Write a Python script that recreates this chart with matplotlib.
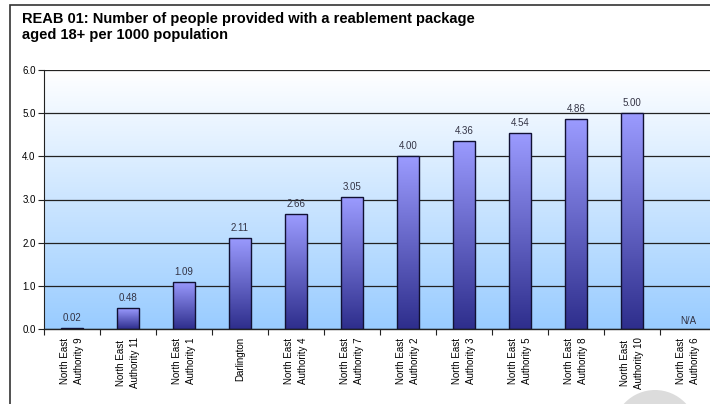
import numpy as np
import matplotlib
matplotlib.use("Agg")
import matplotlib.pyplot as plt
from matplotlib.patches import Rectangle, Ellipse
from matplotlib.colors import LinearSegmentedColormap

plt.rcParams['font.family'] = ['Liberation Sans', 'DejaVu Sans']

title = "REAB 01: Number of people provided with a reablement package\naged 18+ per 1000 population"
categories = ["North East\nAuthority 9", "North East\nAuthority 11", "North East\nAuthority 1",
              "Darlington", "North East\nAuthority 4", "North East\nAuthority 7",
              "North East\nAuthority 2", "North East\nAuthority 3", "North East\nAuthority 5",
              "North East\nAuthority 8", "North East\nAuthority 10", "North East\nAuthority 6"]
values = [0.02, 0.48, 1.09, 2.11, 2.66, 3.05, 4.00, 4.36, 4.54, 4.86, 5.00, np.nan]
y_ticks = [0.0, 1.0, 2.0, 3.0, 4.0, 5.0, 6.0]

W, H = 710, 404
fig = plt.figure(figsize=(W / 100, H / 100), dpi=100)
fig.patch.set_facecolor("white")

# soft grey disc near the lower right corner
fig.add_artist(Ellipse((655 / W, 1 - 432 / H), 84 / W, 84 / H, transform=fig.transFigure,
                       facecolor="#dcdcdc", edgecolor="none", zorder=0.5))

# outer chart frame
fig.add_artist(Rectangle((10 / W, -0.1), 1.2, (H - 5) / H + 0.1, transform=fig.transFigure,
                         fill=False, edgecolor="#333333", linewidth=1.2, zorder=1))

fig.text(22 / W, 1 - 12 / H, title, fontsize=10.5, fontweight="bold", va="top", ha="left",
         linespacing=1.15)

left, right, top, bottom = 44, 716, 70, 329
ax = fig.add_axes([left / W, 1 - bottom / H, (right - left) / W, (bottom - top) / H])
ax.set_zorder(2)
n = len(categories)

# background gradient
bg = LinearSegmentedColormap.from_list("bg", ["#99ccff", "#ffffff"])
grad = np.linspace(0, 1, 256).reshape(-1, 1)
ax.imshow(grad, aspect="auto", cmap=bg, extent=[0, n, 0, 6], origin="lower", zorder=0)

for yv in y_ticks:
    ax.axhline(yv, color="#222222", linewidth=0.9, zorder=1)

barcmap = LinearSegmentedColormap.from_list("bar", ["#2e2e8c", "#9b9bff"])
bw = 0.4
for i, v in enumerate(values):
    cx = i + 0.5
    if np.isnan(v):
        ax.text(cx, 0.08, "N/A", ha="center", va="bottom", fontsize=7, color="#333344", zorder=5)
        continue
    im = ax.imshow(grad, aspect="auto", cmap=barcmap, origin="lower",
                   extent=[cx - bw / 2, cx + bw / 2, 0, max(v, 0.001)], zorder=2)
    rect = Rectangle((cx - bw / 2, 0), bw, v, facecolor="none", edgecolor="#111133",
                     linewidth=1.0, zorder=3)
    ax.add_patch(rect)
    im.set_clip_path(rect)
    ax.text(cx, v + 0.12, f"{v:.2f}", ha="center", va="bottom", fontsize=7,
            color="#333344", zorder=5)

ax.set_xlim(0, n)
ax.set_ylim(0, 6)

ax.set_yticks(y_ticks)
ax.set_yticklabels([f"{t:.1f}" for t in y_ticks], fontsize=7)
ax.set_xticks(np.arange(0, n + 1), minor=False)
ax.set_xticklabels([])
ax.set_xticks(np.arange(n) + 0.5, minor=True)
ax.set_xticklabels(categories, minor=True, rotation=90, fontsize=7, va="top", ha="center",
                   multialignment="center", linespacing=1.45)
ax.tick_params(axis="x", which="minor", length=0, pad=6)
ax.tick_params(axis="x", which="major", length=4, width=0.8, color="#222222", direction="out")
ax.tick_params(axis="y", length=4, width=0.8, color="#222222", pad=2)

for s in ["top", "right"]:
    ax.spines[s].set_visible(False)
ax.spines["left"].set_color("#222222")
ax.spines["bottom"].set_color("#222222")
ax.spines["bottom"].set_linewidth(1.0)

fig.savefig("out.png", dpi=100)
